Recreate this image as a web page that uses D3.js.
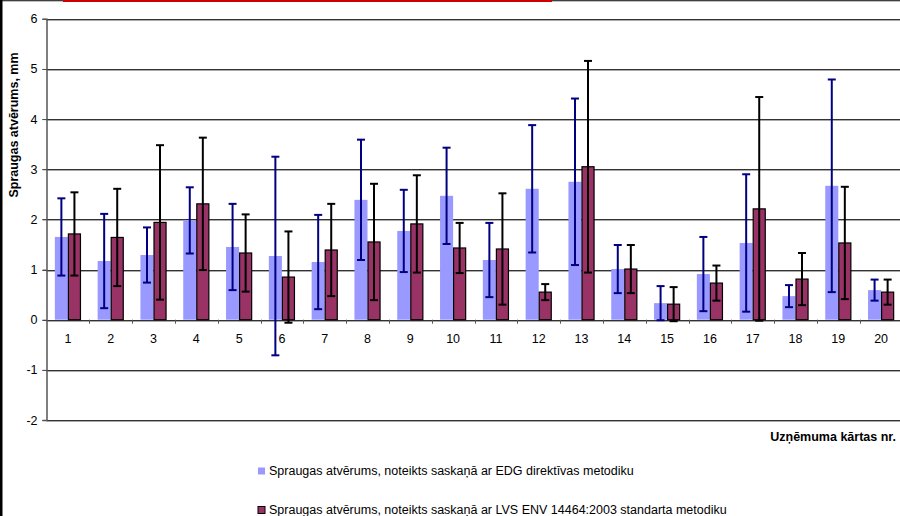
<!DOCTYPE html>
<html>
<head>
<meta charset="utf-8">
<script src="https://cdn.jsdelivr.net/npm/d3@7"></script>
<style>
  html, body { margin: 0; padding: 0; background: #fff; }
  svg { display: block; font-family: "Liberation Sans", Arial, sans-serif; }
</style>
</head>
<body>
<svg id="chart" width="900" height="516"></svg>
<script>
// ---- data ----
const categories = ["1","2","3","4","5","6","7","8","9","10","11","12","13","14","15","16","17","18","19","20"];
const edgValues = [1.65,1.17,1.29,1.98,1.45,1.27,1.15,2.39,1.77,2.47,1.19,2.61,2.75,1.01,0.33,0.91,1.53,0.47,2.67,0.59];
const edgErrors = [0.77,0.94,0.55,0.66,0.86,1.98,0.94,1.20,0.82,0.96,0.74,1.27,1.66,0.48,0.34,0.74,1.37,0.22,2.12,0.21];
const lvsValues = [1.71,1.64,1.94,2.31,1.33,0.85,1.39,1.55,1.91,1.43,1.41,0.55,3.05,1.01,0.31,0.73,2.21,0.81,1.53,0.55];
const lvsErrors = [0.83,0.97,1.54,1.32,0.77,0.91,0.92,1.16,0.97,0.50,1.11,0.16,2.11,0.48,0.34,0.35,2.23,0.52,1.12,0.25];
const yTicks = [-2,-1,0,1,2,3,4,5,6];
const yTickLabels = ["-2","-1","0","1","2","3","4","5","6"];
const seriesNames = [
  "Spraugas atvērums, noteikts saskaņā ar EDG direktīvas metodiku",
  "Spraugas atvērums, noteikts saskaņā ar LVS ENV 14464:2003 standarta metodiku"
];
const yTitle = "Spraugas atvērums, mm";
const xTitle = "Uzņēmuma kārtas nr.";

const series = [
  { key: "edg", name: seriesNames[0], values: edgValues, errors: edgErrors, fill: "#9999FF", stroke: "none", errColor: "#000080" },
  { key: "lvs", name: seriesNames[1], values: lvsValues, errors: lvsErrors, fill: "#993366", stroke: "#000", errColor: "#000" }
];

const svg = d3.select("#chart");
const W = 900, H = 516;
const FONT = "Liberation Sans, Arial, sans-serif";

// frame decorations
svg.append("rect").attr("x", 0).attr("y", 0).attr("width", 2.5).attr("height", H).attr("fill", "#000");
svg.append("line").attr("x1", 0).attr("x2", W).attr("y1", 0.75).attr("y2", 0.75).attr("stroke", "#000").attr("stroke-width", 1.2);
svg.append("line").attr("x1", 63).attr("x2", 552).attr("y1", 0.9).attr("y2", 0.9).attr("stroke", "#cc0000").attr("stroke-width", 2);

const plotLeft = 46.5, plotRight = 902.5;
const y = d3.scaleLinear().domain([-2, 6]).range([420, 18.8]);
const x = d3.scaleBand().domain(categories).range([plotLeft, plotRight]).paddingInner(0.39).paddingOuter(0.195);
const xs = d3.scaleBand().domain(series.map(s => s.key)).range([0, x.bandwidth()]);

// gridlines
const grid = svg.append("g");
yTicks.forEach(t => {
  grid.append("line").attr("x1", plotLeft - 4).attr("x2", W).attr("y1", Math.round(y(t)) + 0.5).attr("y2", Math.round(y(t)) + 0.5)
    .attr("stroke", "#333").attr("stroke-width", 1);
  grid.append("line").attr("x1", plotLeft).attr("x2", W).attr("y1", Math.round(y(t)) + 1.5).attr("y2", Math.round(y(t)) + 1.5)
    .attr("stroke", "#aaa").attr("stroke-width", 1);
});

// y axis
const yAxis = d3.axisLeft(y).tickValues(yTicks).tickSize(4).tickPadding(5)
  .tickFormat((d, i) => yTickLabels[i]);
const gy = svg.append("g").attr("transform", `translate(${plotLeft},0)`).call(yAxis);
gy.select(".domain").attr("stroke", "#555").attr("stroke-width", 1.5);
gy.selectAll(".tick line").attr("stroke", "#555");
gy.selectAll("text").attr("font-size", 12.5).attr("fill", "#000").attr("font-family", FONT);

// x axis at zero
const xAxis = d3.axisBottom(x).tickSize(0).tickPadding(14);
const gx = svg.append("g").attr("transform", `translate(0,${y(0)})`).call(xAxis);
gx.select(".domain").remove();
gx.selectAll("text").attr("font-size", 12.5).attr("fill", "#000").attr("font-family", FONT);
// category boundary ticks
categories.forEach((c, i) => {
  if (i === 0) return;
  const bx = Math.round(x(c) - x.step() * x.paddingInner() / 2) + 0.5;
  svg.append("line").attr("x1", bx).attr("x2", bx).attr("y1", y(0)).attr("y2", y(0) + 4).attr("stroke", "#555").attr("stroke-width", 1);
});

// bars
series.forEach(s => {
  const g = svg.append("g");
  g.selectAll("rect").data(s.values).join("rect")
    .attr("x", (d, i) => x(categories[i]) + xs(s.key) + (s.stroke === "none" ? 0 : 0.5))
    .attr("width", xs.bandwidth() - (s.stroke === "none" ? 0 : 1))
    .attr("y", d => y(Math.max(0, d)))
    .attr("height", d => Math.abs(y(d) - y(0)))
    .attr("fill", s.fill)
    .attr("stroke", s.stroke)
    .attr("stroke-width", s.stroke === "none" ? 0 : 1.2);
});

// error bars
series.forEach(s => {
  const g = svg.append("g").attr("stroke", s.errColor).attr("stroke-width", 2);
  s.values.forEach((v, i) => {
    const cx = x(categories[i]) + xs(s.key) + xs.bandwidth() / 2;
    const hi = y(v + s.errors[i]), lo = y(v - s.errors[i]);
    g.append("line").attr("x1", cx).attr("x2", cx).attr("y1", hi).attr("y2", lo);
    g.append("line").attr("x1", cx - 4).attr("x2", cx + 4).attr("y1", hi).attr("y2", hi);
    g.append("line").attr("x1", cx - 4).attr("x2", cx + 4).attr("y1", lo).attr("y2", lo);
  });
});

// axis titles
svg.append("text").attr("transform", `translate(18,125) rotate(-90)`)
  .attr("text-anchor", "middle").attr("font-size", 12.5).attr("font-weight", "bold").text(yTitle);
svg.append("text").attr("x", 896).attr("y", 441).attr("text-anchor", "end")
  .attr("font-size", 12.5).attr("font-weight", "bold").text(xTitle);

// legend
const legendY = [471, 510];
series.forEach((s, i) => {
  svg.append("rect").attr("x", 258).attr("y", legendY[i] - 3.5).attr("width", 7).attr("height", 7)
    .attr("fill", s.fill).attr("stroke", s.stroke === "none" ? "none" : "#000").attr("stroke-width", 1);
  svg.append("text").attr("x", 269).attr("y", legendY[i]).attr("dy", "0.35em")
    .attr("font-size", 12.5).attr("fill", "#000").text(s.name);
});
</script>
</body>
</html>
